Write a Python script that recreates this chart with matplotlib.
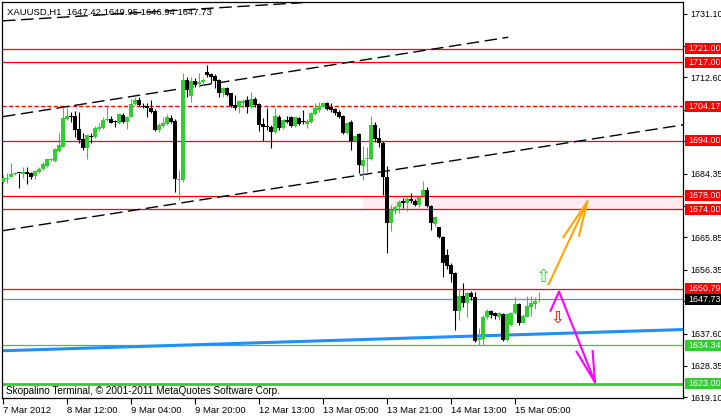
import matplotlib
matplotlib.use('Agg')
import matplotlib.pyplot as plt
from matplotlib.patches import Rectangle
from matplotlib.transforms import blended_transform_factory

plt.rcParams['font.family'] = ['Liberation Sans', 'DejaVu Sans']

# XAUUSD H1, bar 0 = 7 Mar 2012 20:00 (open, high, low, close)
opens = [1682.1, 1683.0, 1683.4, 1684.3, 1684.6, 1684.4, 1684.8, 1684.5, 1683.9, 1685.0,
         1685.7, 1686.7, 1688.4, 1688.2, 1691.2, 1692.3, 1700.5, 1701.3, 1701.3, 1697.4,
         1694.5, 1691.8, 1695.4, 1695.2, 1697.5, 1697.7, 1700.1, 1700.4, 1699.6, 1699.3,
         1701.6, 1699.5, 1700.9, 1704.7, 1706.0, 1704.3, 1704.2, 1703.5, 1702.8, 1697.2,
         1698.4, 1699.0, 1700.6, 1699.8, 1682.6, 1682.6, 1711.8, 1707.1, 1711.5, 1710.7,
         1711.2, 1714.2, 1713.6, 1713.1, 1711.8, 1708.1, 1709.5, 1707.9, 1704.5, 1704.0,
         1705.2, 1706.0, 1703.8, 1706.3, 1704.8, 1699.0, 1698.4, 1698.2, 1696.7, 1701.1,
         1697.7, 1700.1, 1701.1, 1698.4, 1700.8, 1699.7, 1698.9, 1699.6, 1701.9, 1703.0,
         1704.0, 1705.0, 1703.8, 1703.3, 1702.6, 1701.3, 1696.2, 1699.6, 1694.1, 1696.0,
         1686.7, 1688.6, 1688.7, 1698.7, 1695.0, 1693.5, 1683.5, 1670.0, 1673.4, 1674.6,
         1676.5, 1676.0, 1677.1, 1676.5, 1675.3, 1677.9, 1679.7, 1675.0, 1669.7, 1668.8,
         1666.0, 1660.7, 1657.8, 1655.5, 1644.4, 1648.7, 1646.7, 1649.7, 1648.5, 1635.8,
         1636.0, 1642.5, 1644.4, 1643.6, 1642.7, 1643.4, 1635.8, 1640.2, 1643.6, 1646.4,
         1640.9, 1642.6, 1645.6, 1646.4, 1647.42]
highs = [1684.1, 1684.5, 1687.7, 1685.0, 1684.7, 1686.3, 1686.3, 1685.0, 1685.5, 1686.3,
         1687.8, 1688.8, 1689.0, 1691.9, 1696.2, 1704.0, 1703.5, 1702.6, 1702.8, 1702.4,
         1696.4, 1695.8, 1696.4, 1698.5, 1699.2, 1701.1, 1704.0, 1701.3, 1700.1, 1702.2,
         1702.2, 1701.3, 1706.2, 1706.8, 1706.9, 1705.2, 1705.0, 1706.0, 1703.4, 1699.2,
         1701.1, 1701.8, 1701.6, 1700.3, 1685.5, 1713.8, 1712.7, 1712.8, 1712.4, 1713.9,
         1712.5, 1716.2, 1713.9, 1713.6, 1712.0, 1709.7, 1709.7, 1708.1, 1707.4, 1706.0,
         1706.2, 1707.1, 1708.3, 1706.9, 1705.0, 1700.6, 1703.7, 1698.7, 1703.5, 1701.6,
         1700.3, 1701.3, 1701.3, 1701.1, 1701.0, 1703.0, 1700.3, 1702.6, 1705.2, 1705.5,
         1705.2, 1705.5, 1705.2, 1703.5, 1703.0, 1701.6, 1699.5, 1700.1, 1695.8, 1696.2,
         1692.5, 1692.2, 1701.3, 1699.5, 1697.8, 1694.0, 1686.7, 1675.3, 1675.3, 1676.8,
         1677.2, 1677.5, 1678.9, 1676.9, 1677.9, 1682.3, 1680.6, 1675.3, 1672.1, 1668.9,
         1666.2, 1662.3, 1658.3, 1655.8, 1651.0, 1652.4, 1649.9, 1650.3, 1649.9, 1639.4,
         1643.2, 1644.8, 1644.6, 1644.1, 1644.1, 1643.6, 1643.6, 1644.1, 1648.3, 1646.8,
         1643.4, 1648.7, 1648.7, 1648.5, 1649.95]
lows = [1681.4, 1681.6, 1683.4, 1684.0, 1680.2, 1683.1, 1681.4, 1683.0, 1682.8, 1684.7,
        1685.4, 1686.3, 1688.0, 1687.9, 1690.9, 1692.1, 1700.1, 1699.6, 1695.3, 1693.5,
        1691.4, 1688.6, 1693.3, 1694.9, 1697.0, 1697.5, 1699.9, 1699.2, 1698.2, 1699.0,
        1699.3, 1697.5, 1700.9, 1704.5, 1704.2, 1703.5, 1700.9, 1702.3, 1697.0, 1696.5,
        1698.2, 1698.7, 1699.2, 1679.2, 1676.8, 1682.0, 1706.9, 1705.5, 1709.8, 1709.9,
        1710.4, 1712.8, 1710.9, 1709.4, 1706.9, 1706.8, 1707.1, 1704.0, 1702.9, 1702.1,
        1703.5, 1702.3, 1703.5, 1704.0, 1697.0, 1694.1, 1697.2, 1691.9, 1696.4, 1697.2,
        1697.5, 1699.2, 1698.2, 1698.2, 1698.7, 1698.9, 1697.7, 1699.3, 1701.6, 1702.6,
        1703.8, 1702.9, 1702.5, 1701.6, 1700.6, 1696.0, 1696.0, 1691.4, 1694.0, 1684.6,
        1682.6, 1685.0, 1688.4, 1693.7, 1692.3, 1678.2, 1661.4, 1667.8, 1672.7, 1672.9,
        1674.3, 1673.6, 1675.9, 1675.0, 1674.8, 1677.7, 1674.6, 1668.0, 1669.2, 1665.6,
        1654.3, 1656.5, 1652.9, 1638.8, 1641.7, 1645.4, 1642.5, 1647.5, 1635.3, 1634.4,
        1634.4, 1641.9, 1642.2, 1641.9, 1641.7, 1635.6, 1635.6, 1639.9, 1643.4, 1640.2,
        1640.7, 1642.5, 1642.9, 1644.8, 1646.94]
closes = [1683.1, 1683.3, 1684.4, 1684.7, 1684.5, 1684.8, 1684.4, 1683.6, 1685.2, 1685.8,
          1687.3, 1688.6, 1688.6, 1691.6, 1692.8, 1700.7, 1701.3, 1701.0, 1697.2, 1694.3,
          1691.9, 1695.7, 1695.1, 1697.8, 1698.2, 1700.1, 1700.3, 1699.3, 1699.5, 1701.9,
          1699.6, 1700.9, 1704.8, 1706.1, 1704.5, 1704.0, 1703.5, 1702.5, 1697.2, 1698.7,
          1699.3, 1701.1, 1699.6, 1682.8, 1683.0, 1711.8, 1708.9, 1711.6, 1710.4, 1711.2,
          1711.8, 1713.3, 1712.8, 1711.6, 1708.1, 1709.5, 1707.4, 1704.3, 1703.5, 1705.8,
          1705.8, 1703.8, 1706.3, 1704.5, 1698.7, 1698.2, 1698.0, 1696.7, 1701.3, 1697.7,
          1700.1, 1699.6, 1698.4, 1700.9, 1698.9, 1699.5, 1699.9, 1702.3, 1703.5, 1704.2,
          1705.0, 1703.3, 1702.9, 1702.1, 1701.1, 1696.2, 1699.2, 1694.1, 1695.5, 1687.0,
          1688.4, 1689.1, 1698.7, 1694.5, 1693.4, 1683.6, 1670.0, 1673.8, 1674.8, 1676.3,
          1675.8, 1677.0, 1676.5, 1675.3, 1677.7, 1679.7, 1675.0, 1669.9, 1671.9, 1665.8,
          1658.3, 1657.5, 1655.1, 1644.4, 1648.7, 1646.7, 1649.7, 1648.3, 1635.6, 1636.4,
          1642.7, 1644.4, 1643.2, 1642.9, 1643.6, 1635.8, 1643.4, 1643.8, 1646.4, 1640.7,
          1642.9, 1645.8, 1646.8, 1647.3, 1647.73]

date_ticks = [0, 16, 32, 48, 64, 80, 96, 112, 128]
date_labels = ['7 Mar 2012', '8 Mar 12:00', '9 Mar 04:00', '9 Mar 20:00', '12 Mar 13:00',
               '13 Mar 05:00', '13 Mar 21:00', '14 Mar 13:00', '15 Mar 05:00']
price_ticks = [1731.10, 1721.85, 1712.60, 1703.10, 1693.85, 1684.35, 1675.10,
               1665.85, 1656.35, 1647.10, 1637.60, 1628.35, 1619.10]
# tick labels that sit under a level box are left blank
price_labels = ['1731.10', '', '1712.60', '', '', '1684.35', '',
                '1665.85', '1656.35', '', '1637.60', '1628.35', '1619.10']

red_levels = [1721.00, 1717.00, 1694.00, 1678.00, 1674.00, 1650.79]
red_dashed = 1704.17
bid = 1647.73
green_thin = 1634.34
green_thick = 1623.00
zone = (1674.00, 1678.00, 90)   # low, high, start bar

# trend lines: (bar0, price0, bar1, price1)
trend_a = (0, 1729.1, 74.8, 1734.4)
trend_b = (0, 1701.1, 126.3, 1724.3)
trend_c = (0, 1667.8, 170, 1698.7)
blue_line = (-0.3, 1632.7, 170, 1638.9)

# forecast arrows (bar, price)
orange_shaft = ([136.4, 146.1], [1652.1, 1676.3])
orange_head = ([140.1, 146.1, 144.0], [1665.9, 1676.3, 1666.3])
magenta_path = ([136.9, 139.0, 148.0], [1644.4, 1650.0, 1623.5])
magenta_head = ([143.4, 148.0, 147.4], [1632.4, 1623.5, 1632.6])

GREEN = '#32CD32'
FS = 6.8
FS_R = 6.4

fig = plt.figure(figsize=(7.21, 4.17), dpi=100)
ax = fig.add_axes([2 / 721, 19 / 417, 681 / 721, 396 / 417])
ax.set_xlim(-0.25, 170)
ax.set_ylim(1618.9, 1734.6)

# zone and levels
ax.add_patch(Rectangle((zone[2], zone[0]), 200, zone[1] - zone[0], fc='#FFEBF0', ec='none', zorder=0))
for lv in red_levels:
    ax.axhline(lv, color='red', lw=0.9, zorder=1)
ax.axhline(red_dashed, color='red', lw=1.0, ls=(0, (3, 1.6)), zorder=1)
ax.axhline(bid, color='#778899', lw=0.9, zorder=1)
ax.axhline(green_thin, color=GREEN, lw=0.9, zorder=1)
ax.axhline(green_thick, color=GREEN, lw=2.0, zorder=1)

for t in [trend_a, trend_b, trend_c]:
    ax.plot([t[0], t[2]], [t[1], t[3]], color='black', lw=1.0, ls=(0, (9, 4)), zorder=2)
ax.plot([blue_line[0], blue_line[2]], [blue_line[1], blue_line[3]], color='#1E90FF', lw=2.2, zorder=2)

# candles
for i, (o, h, l, c) in enumerate(zip(opens, highs, lows, closes)):
    col = GREEN if c >= o else 'black'
    ax.vlines(i, l, h, color=col, lw=0.8, zorder=3)
    lo, hi = min(o, c), max(o, c)
    ax.bar(i, max(hi - lo, 0.3), width=0.8, bottom=lo, color=col, lw=0, zorder=4)

# arrows
ax.plot(*orange_shaft, color='#FFA500', lw=1.5, zorder=5)
ax.plot(*orange_head, color='#FFA500', lw=1.5, zorder=5)
ax.plot(*magenta_path, color='#FF00FF', lw=1.5, zorder=5)
ax.plot(*magenta_head, color='#FF00FF', lw=1.5, zorder=5)
ax.text(135, 1654.3, '\u21e7', color=GREEN, fontsize=13, ha='center', va='center',
        family='DejaVu Sans', zorder=5)
ax.text(138.6, 1642.3, '\u21e9', color='red', fontsize=12, ha='center', va='center',
        family='DejaVu Sans', zorder=5)

# axes styling
for s in ['left', 'bottom', 'right', 'top']:
    ax.spines[s].set_linewidth(0.9)
ax.yaxis.tick_right()
ax.set_yticks(price_ticks)
ax.set_yticklabels(price_labels)
ax.tick_params(axis='y', length=3, width=0.8, pad=2.0, labelsize=FS_R)
ax.set_xticks(date_ticks)
ax.set_xticklabels(date_labels)
ax.tick_params(axis='x', length=4, width=0.8, pad=1.5, labelsize=FS)
for lab in ax.get_xticklabels():
    lab.set_horizontalalignment('left')

trans = blended_transform_factory(ax.transAxes, ax.transData)
boxes = [(lv, 'red') for lv in red_levels] + [(red_dashed, 'red'), (bid, 'black'),
                                                (green_thin, GREEN), (green_thick, GREEN)]
for lv, fc in boxes:
    ax.add_patch(Rectangle((1.003, lv - 1.6), 0.1, 3.2, transform=trans, fc=fc, ec='none',
                           clip_on=False, zorder=6))
    ax.text(1.0075, lv, '%.2f' % lv, transform=trans, color='white', fontsize=FS_R,
            va='center', ha='left', clip_on=False, zorder=7)

ax.text(0.0075, 0.975, 'XAUUSD,H1  1647.42 1649.95 1646.94 1647.73', transform=ax.transAxes,
        fontsize=FS, va='center', ha='left', zorder=8)
ax.text(0.006, 0.018, 'Skopalino Terminal, \u00a9 2001-2011 MetaQuotes Software Corp.',
        transform=ax.transAxes, fontsize=7.2, va='center', ha='left', zorder=8)

plt.savefig('out.png', dpi=100)
